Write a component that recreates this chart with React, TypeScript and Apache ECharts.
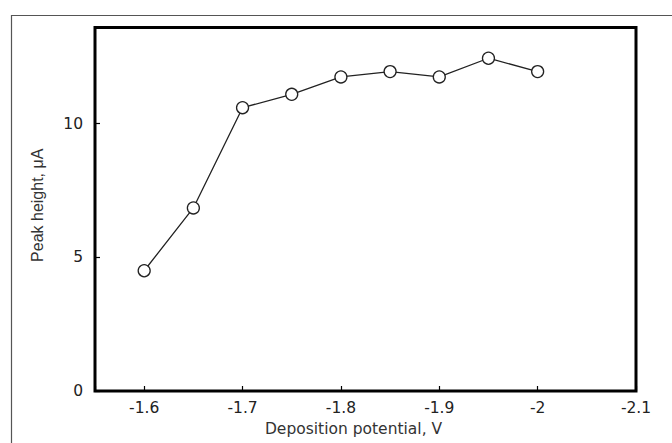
import React, { useEffect, useRef } from "react";
import * as echarts from "echarts";

const potentials = [-1.6, -1.65, -1.7, -1.75, -1.8, -1.85, -1.9, -1.95, -2.0];
const peakHeights = [4.5, 6.85, 10.6, 11.1, 11.75, 11.95, 11.75, 12.45, 11.95];
const xTitle = "Deposition potential, V";
const yTitle = "Peak height, \u03bcA";

export default function App() {
  const ref = useRef<HTMLDivElement>(null);
  useEffect(() => {
    if (!ref.current) return;
    const chart = echarts.init(ref.current, null, { renderer: "svg" });
    const wide = "'DejaVu Sans', Verdana, sans-serif";
    const arial = "'Liberation Sans', Arial, sans-serif";
    chart.setOption({
      animation: false,
      backgroundColor: "#fff",
      textStyle: { fontFamily: wide },
      grid: {
        left: 95,
        top: 27.5,
        right: 36,
        bottom: 52,
        show: true,
        borderColor: "#000",
        borderWidth: 3,
        backgroundColor: "transparent",
      },
      graphic: [
        {
          type: "rect",
          left: 9,
          top: 13,
          shape: { x: 0, y: 0, width: 700, height: 500 },
          style: { fill: "none", stroke: "#555", lineWidth: 1.2 },
          silent: true,
          z: -1,
        },
      ],
      xAxis: {
        type: "value",
        inverse: true,
        min: -2.1,
        max: -1.55,
        interval: 0.1,
        name: xTitle,
        nameLocation: "middle",
        nameGap: 28,
        nameTextStyle: { fontFamily: wide, fontSize: 15.5, color: "#333", padding: [0, 24, 0, 0] },
        axisLine: { show: false },
        axisTick: { show: true, inside: true, length: 5, lineStyle: { color: "#000", width: 1.2 } },
        splitLine: { show: false },
        axisLabel: {
          fontFamily: wide,
          fontSize: 15.5,
          color: "#222",
          margin: 9,
          showMinLabel: true,
          showMaxLabel: true,
          formatter: (v: number) => {
            const t = v * 10;
            return Math.abs(t - Math.round(t)) < 1e-6 ? String(Math.round(t) / 10) : "";
          },
        },
      },
      yAxis: {
        type: "value",
        min: 0,
        max: 13.6,
        interval: 5,
        name: yTitle,
        nameLocation: "middle",
        nameGap: 50,
        nameTextStyle: { fontFamily: arial, fontSize: 16, color: "#333", padding: [0, 0, 0, 8] },
        axisLine: { show: false },
        axisTick: { show: true, inside: true, length: 5, lineStyle: { color: "#000", width: 1.2 } },
        splitLine: { show: false },
        axisLabel: {
          fontFamily: wide,
          fontSize: 15.5,
          color: "#222",
          margin: 12,
          formatter: (v: number) => (Math.abs(v % 5) < 1e-6 ? String(v) : ""),
        },
      },
      series: [
        {
          type: "line",
          data: potentials.map((x, i) => [x, peakHeights[i]]),
          symbol: "circle",
          symbolSize: 12,
          lineStyle: { color: "#222", width: 1.3 },
          itemStyle: { color: "#fff", borderColor: "#222", borderWidth: 1.3 },
          z: 3,
        },
      ],
    });
    return () => chart.dispose();
  }, []);
  return (
    <div
      ref={ref}
      style={{ position: "fixed", left: 0, top: 0, width: 672, height: 443, background: "#fff" }}
    />
  );
}
